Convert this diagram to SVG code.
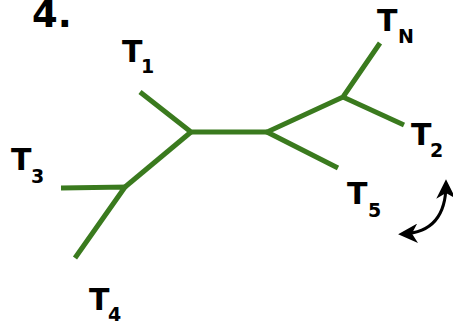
<svg xmlns="http://www.w3.org/2000/svg" width="453" height="323" viewBox="0 0 453 323">
<style>
.edge{stroke:#3a7a1e;stroke-width:5;fill:none;stroke-linecap:butt;stroke-linejoin:miter}
.lbl{font-family:"DejaVu Sans",Verdana,sans-serif;font-weight:bold;fill:#000}
.big{font-size:30px}
.sub{font-size:19px}
.arrow{stroke:#000;stroke-width:3;fill:none}
</style>
<defs>
<marker id="ah" viewBox="0 0 12 12" refX="9" refY="6" markerWidth="6.5" markerHeight="6.5" markerUnits="strokeWidth" orient="auto-start-reverse">
<path d="M0,0 L12,6 L0,12 L3.5,6 z" fill="#000"/>
</marker>
</defs>
<rect width="453" height="323" fill="#fff"/>
<g id="title"><text class="lbl" x="32" y="27" font-size="37">4.</text></g>
<g id="connectors">
<path class="edge" d="M140,92 L191,132 L267,132"/>
<path class="edge" d="M191,132 L125,187"/>
<path class="edge" d="M61,188 L125,187 L75,258"/>
<path class="edge" d="M338,168 L267,132 L343,97 L380,43"/>
<path class="edge" d="M343,97 L404,125"/>
</g>
<g id="T1"><text class="lbl big" x="122" y="62">T<tspan class="sub" x="141" y="73">1</tspan></text></g>
<g id="T3"><text class="lbl big" x="11" y="170">T<tspan class="sub" x="31" y="183">3</tspan></text></g>
<g id="T4"><text class="lbl big" x="89" y="310">T<tspan class="sub" x="108" y="321">4</tspan></text></g>
<g id="T5"><text class="lbl big" x="347" y="204">T<tspan class="sub" x="368" y="217">5</tspan></text></g>
<g id="T2"><text class="lbl big" x="411" y="145">T<tspan class="sub" x="430" y="157">2</tspan></text></g>
<g id="TN"><text class="lbl big" x="377" y="31">T<tspan class="sub" x="398" y="43">N</tspan></text></g>
<g id="swap-arrow">
<path class="arrow" d="M403,234 Q446,232 446,184" marker-start="url(#ah)" marker-end="url(#ah)"/>
</g>
</svg>
